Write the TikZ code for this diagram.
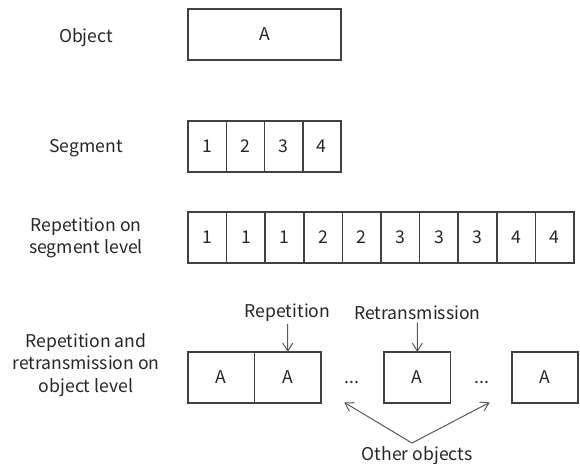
\documentclass[tikz,border=0pt]{standalone}
\usepackage{fontspec}
\setmainfont{Noto Sans CJK KR}
\usetikzlibrary{positioning,arrows.meta}

\begin{document}
\begin{tikzpicture}[x=0.5pt,y=-0.5pt,
  font=\fontsize{8.8}{11.3}\selectfont, text=black!85,
  cell/.style={draw=black!75, line width=0.75pt, minimum height=25.5pt, inner sep=0pt, outer sep=0pt},
  lbl/.style={align=center, inner sep=1pt},
  ptr/.style={draw=black!65, line width=0.5pt, -{Straight Barb[length=4pt,width=5pt]}}]
\useasboundingbox (0,0) rectangle (580,463);
% row labels
\node[lbl] (objlbl) at (86,38) {Object};
\node[lbl] (seglbl) at (86,148) {Segment};
\node[lbl] (replbl) at (86,238) {Repetition on\\segment level};
\node[lbl] (retlbl) at (86,365) {Repetition and\\retransmission on\\object level};
% object
\node[cell, anchor=north west, minimum width=76.5pt] (obj) at (188,9) {A};
% segments
\node[cell, anchor=north west, minimum width=19.125pt] (seg1) at (188,121) {1};
\node[cell, minimum width=19.125pt, right=0pt of seg1] (seg2) {2};
\node[cell, minimum width=19.125pt, right=0pt of seg2] (seg3) {3};
\node[cell, minimum width=19.125pt, right=0pt of seg3] (seg4) {4};
% repetition on segment level
\node[cell, anchor=north west, minimum width=19.3pt] (rep1) at (188,212) {1};
\node[cell, minimum width=19.3pt, right=0pt of rep1] (rep2) {1};
\node[cell, minimum width=19.3pt, right=0pt of rep2] (rep3) {1};
\node[cell, minimum width=19.3pt, right=0pt of rep3] (rep4) {2};
\node[cell, minimum width=19.3pt, right=0pt of rep4] (rep5) {2};
\node[cell, minimum width=19.3pt, right=0pt of rep5] (rep6) {3};
\node[cell, minimum width=19.3pt, right=0pt of rep6] (rep7) {3};
\node[cell, minimum width=19.3pt, right=0pt of rep7] (rep8) {3};
\node[cell, minimum width=19.3pt, right=0pt of rep8] (rep9) {4};
\node[cell, minimum width=19.3pt, right=0pt of rep9] (rep10) {4};
% repetition and retransmission on object level
\node[cell, anchor=north west, minimum width=33.25pt] (ob1) at (188,352) {A};
\node[cell, minimum width=33.25pt, right=0pt of ob1] (ob2) {A};
\node[cell, anchor=north west, minimum width=33.25pt] (ob3) at (384,352) {A};
\node[cell, anchor=north west, minimum width=33pt] (ob4) at (512,352) {A};
\node[minimum height=20pt, inner sep=0pt] (dots1) at (352,382) {...};
\node[minimum height=20pt, inner sep=0pt] (dots2) at (482,382) {...};
% pointers
\node[lbl] (replab) at (287.5,313) {Repetition};
\node[lbl] (retlab) at (417.5,313) {Retransmission};
\draw[ptr] (replab) -- (ob2.north);
\draw[ptr] (retlab) -- (ob3.north);
\node[lbl] (other) at (417,456) {Other objects};
\coordinate (apex) at (412,443);
\draw[ptr] (apex) -- (dots1.south west);
\draw[ptr] (apex) -- (dots2.south east);
\end{tikzpicture}
\end{document}
